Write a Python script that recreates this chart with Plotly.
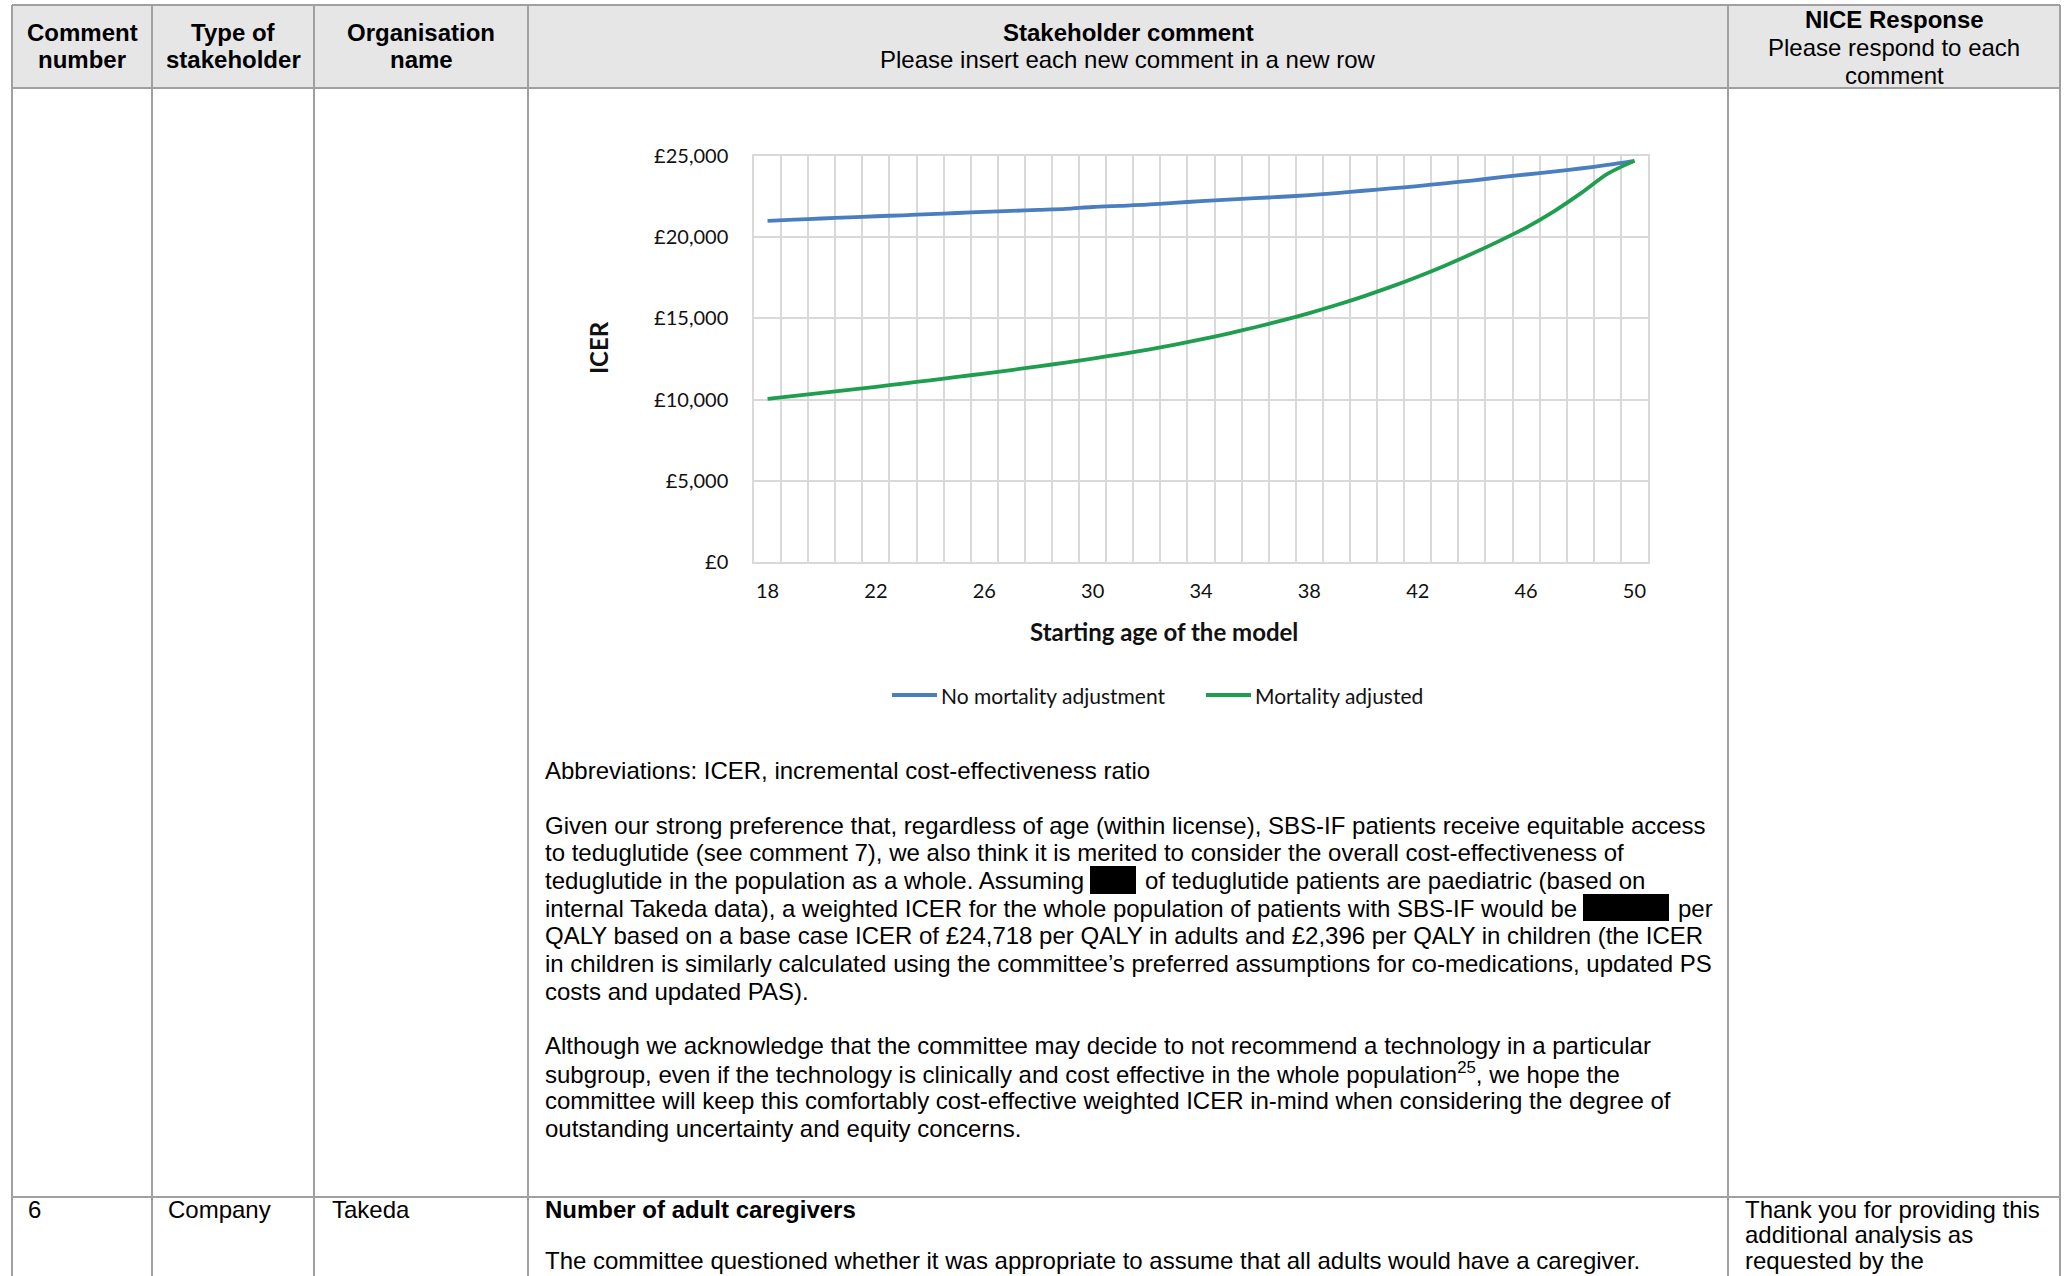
import plotly.graph_objects as go

# ---- chart data: ICER by starting age of the model ----
ages = list(range(18, 51))
icer_no_adjustment = [
    21010, 21080, 21150, 21220, 21290, 21350, 21420, 21490, 21560, 21620,
    21680, 21740, 21860, 21930, 22000, 22110, 22220, 22310, 22400, 22490,
    22590, 22720, 22860, 23000, 23150, 23320, 23490, 23680, 23860, 24040,
    24230, 24450, 24700,
]
icer_mortality_adjusted = [
    10050, 10230, 10410, 10598, 10790, 10988, 11190, 11395, 11605, 11820,
    12045, 12280, 12525, 12787, 13069, 13374, 13704, 14064, 14454, 14874,
    15329, 15824, 16359, 16939, 17569, 18249, 18979, 19759, 20590, 21560,
    22680, 23900, 24700,
]
series_names = ["No mortality adjustment", "Mortality adjusted"]
series_colors = ["#4A7EBF", "#1F9E50"]
y_tick_values = [0, 5000, 10000, 15000, 20000, 25000]
y_tick_labels = ["£0", "£5,000", "£10,000", "£15,000", "£20,000", "£25,000"]
x_tick_values = [18, 22, 26, 30, 34, 38, 42, 46, 50]

# ---- table text ----
header_cells = [
    (["Comment", "number"], 82),
    (["Type of", "stakeholder"], 233),
    (["Organisation", "name"], 421),
]
stakeholder_header = ["Stakeholder comment", "Please insert each new comment in a new row"]
nice_header = ["NICE Response", "Please respond to each", "comment"]

abbreviations = "Abbreviations: ICER, incremental cost-effectiveness ratio"
paragraph_2 = [
    "Given our strong preference that, regardless of age (within license), SBS-IF patients receive equitable access",
    "to teduglutide (see comment 7), we also think it is merited to consider the overall cost-effectiveness of",
    "teduglutide in the population as a whole. Assuming",
    "internal Takeda data), a weighted ICER for the whole population of patients with SBS-IF would be",
    "QALY based on a base case ICER of £24,718 per QALY in adults and £2,396 per QALY in children (the ICER",
    "in children is similarly calculated using the committee’s preferred assumptions for co-medications, updated PS",
    "costs and updated PAS).",
]
paragraph_2_tails = {2: "of teduglutide patients are paediatric (based on", 3: "per"}
paragraph_3 = [
    "Although we acknowledge that the committee may decide to not recommend a technology in a particular",
    "subgroup, even if the technology is clinically and cost effective in the whole population<sup>25</sup>, we hope the",
    "committee will keep this comfortably cost-effective weighted ICER in-mind when considering the degree of",
    "outstanding uncertainty and equity concerns.",
]
next_row = ["6", "Company", "Takeda"]
next_row_title = "Number of adult caregivers"
next_row_text = "The committee questioned whether it was appropriate to assume that all adults would have a caregiver."
next_row_response = ["Thank you for providing this", "additional analysis as", "requested by the"]

# ---- page geometry (pixels) ----
W, H = 2067, 1276


def px(x):
    return x / W


def py(y):
    return 1 - y / H


TEXT_FONT = "Liberation Sans, Arial, sans-serif"
CHART_FONT = "Lato, Open Sans, sans-serif"
BORDER = "#A0A0A0"

fig = go.Figure()

for name, values, color in zip(series_names, [icer_no_adjustment, icer_mortality_adjusted], series_colors):
    fig.add_trace(go.Scatter(
        x=ages, y=values, name=name, mode="lines", showlegend=False,
        line=dict(color=color, width=3.8, shape="spline", smoothing=0.8),
    ))

shapes = []
# header background
shapes.append(dict(type="rect", xref="paper", yref="paper",
                   x0=px(12), x1=px(2060), y0=py(88), y1=py(5),
                   fillcolor="#E6E6E6", line=dict(width=0), layer="below"))
# horizontal rules
for yy in (5, 88, 1197):
    shapes.append(dict(type="line", xref="paper", yref="paper",
                       x0=px(12), x1=px(2060), y0=py(yy), y1=py(yy),
                       line=dict(color=BORDER, width=2)))
# vertical rules
for xx in (12, 152, 314, 528, 1728, 2060):
    shapes.append(dict(type="line", xref="paper", yref="paper",
                       x0=px(xx), x1=px(xx), y0=py(5), y1=py(1280),
                       line=dict(color=BORDER, width=2)))
# redacted values
for (x0, x1, y0, y1) in ((1090, 1136, 866, 894), (1583, 1669, 894, 921)):
    shapes.append(dict(type="rect", xref="paper", yref="paper",
                       x0=px(x0), x1=px(x1), y0=py(y1), y1=py(y0),
                       fillcolor="#000000", line=dict(width=0)))

annotations = []


def text(x, y, s, anchor="left", bold=False, size=24, font=TEXT_FONT, angle=0, color="#000000"):
    annotations.append(dict(
        xref="paper", yref="paper", x=px(x), y=py(y), text=f"<b>{s}</b>" if bold else s,
        xanchor=anchor, yanchor="middle", showarrow=False, textangle=angle,
        font=dict(family=font, size=size, color=color),
    ))


# header row
for lines, cx in header_cells:
    text(cx, 32, lines[0], "center", bold=True)
    text(cx, 59, lines[1], "center", bold=True)
text(1128, 32, stakeholder_header[0], "center", bold=True)
text(1128, 59, stakeholder_header[1], "center")
text(1894, 20, nice_header[0], "center", bold=True)
text(1894, 47, nice_header[1], "center")
text(1894, 75, nice_header[2], "center")

# comment body
LEFT = 543
STEP = 27.7
text(LEFT, 770, abbreviations)
for i, line in enumerate(paragraph_2):
    text(LEFT, 825 + i * STEP, line)
text(1143, 825 + 2 * STEP, paragraph_2_tails[2])
text(1676, 825 + 3 * STEP, paragraph_2_tails[3])
for i, line in enumerate(paragraph_3):
    text(LEFT, 1045 + i * STEP, line)

# next table row, running on to the foot of the page
ROW_Y = 1209
for s, xx in zip(next_row, (26, 166, 330)):
    text(xx, ROW_Y, s)
text(LEFT, ROW_Y, next_row_title, bold=True)
text(LEFT, 1260, next_row_text)
for i, s in enumerate(next_row_response):
    text(1743, ROW_Y + i * 25.5, s)

# chart axis titles
text(598, 348, "ICER", "center", bold=True, size=24, font=CHART_FONT, angle=-90, color="#111111")
text(1164, 632, "Starting age of the model", "center", bold=True, size=24, font=CHART_FONT, color="#111111")

# chart legend: line sample followed by the series name
for name, color, (x0, x1) in zip(series_names, series_colors, ((892, 937), (1206, 1251))):
    shapes.append(dict(type="line", xref="paper", yref="paper",
                       x0=px(x0), x1=px(x1), y0=py(695), y1=py(695),
                       line=dict(color=color, width=4)))
    text(x1 + 2, 695, name, "left", size=21, font=CHART_FONT, color="#111111")

GRID = "#D9D9D9"
fig.update_layout(
    width=W, height=H,
    margin=dict(l=0, r=0, t=0, b=0, autoexpand=False),
    paper_bgcolor="white", plot_bgcolor="white",
    shapes=shapes, annotations=annotations,
    showlegend=False,
    xaxis=dict(
        domain=[px(754), px(1648)], range=[17.5, 50.5], automargin=False,
        tickvals=x_tick_values, ticks="outside", ticklen=10, tickcolor="rgba(0,0,0,0)",
        showgrid=False, zeroline=False,
        showline=True, mirror=True, linecolor=GRID, linewidth=1.5,
        minor=dict(tick0=17.5, dtick=1, showgrid=True, gridcolor=GRID, gridwidth=1.5, ticks=""),
        tickfont=dict(family=CHART_FONT, size=20, color="#111111"),
        fixedrange=True,
    ),
    yaxis=dict(
        domain=[py(562), py(156)], range=[0, 25000], automargin=False,
        tickvals=y_tick_values, ticktext=y_tick_labels,
        ticks="outside", ticklen=20, tickcolor="rgba(0,0,0,0)",
        showgrid=True, gridcolor=GRID, gridwidth=1.5, zeroline=False,
        showline=True, mirror=True, linecolor=GRID, linewidth=1.5,
        tickfont=dict(family=CHART_FONT, size=20, color="#111111"),
        fixedrange=True,
    ),
)

fig.write_html("out.html", config={"displayModeBar": False})
